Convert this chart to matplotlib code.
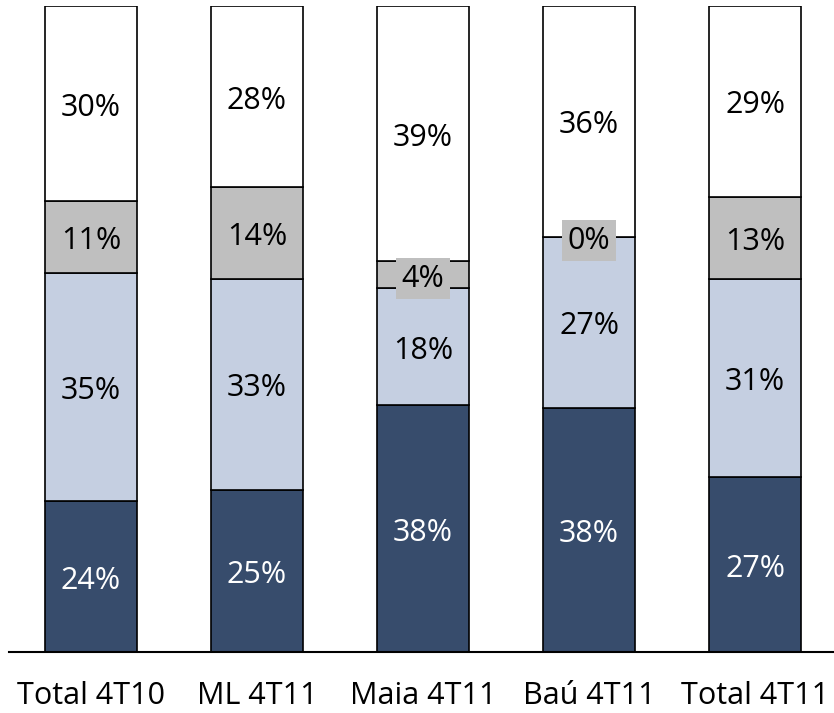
import matplotlib
matplotlib.use("Agg")
import matplotlib.pyplot as plt
import numpy as np

categories = ["Total 4T10", "ML 4T11", "Maia 4T11", "Baú 4T11", "Total 4T11"]
# segment values (bottom to top)
dark_vals = [23.4, 25.1, 38.2, 37.8, 27.1]
light_vals = [35.3, 32.7, 18.2, 26.5, 30.7]
gray_vals = [11.1, 14.2, 4.1, 0.0, 12.7]
white_vals = [30.2, 28.0, 39.5, 35.7, 29.5]
# data labels as shown
dark_labels = ["24%", "25%", "38%", "38%", "27%"]
light_labels = ["35%", "33%", "18%", "27%", "31%"]
gray_labels = ["11%", "14%", "4%", "0%", "13%"]
white_labels = ["30%", "28%", "39%", "36%", "29%"]

plt.rcParams['font.family'] = ['Open Sans', 'DejaVu Sans']

W, H = 834, 713
fig = plt.figure(figsize=(W / 100, H / 100), dpi=100)
ax = fig.add_axes([9 / W, 61 / H, 1 - 9 / W, (652 - 6) / H])

x = np.arange(len(categories))
width = 0.554
series = [
    (dark_vals, dark_labels, "#374C6C", "white", None),
    (light_vals, light_labels, "#C5CFE1", "black", None),
    (gray_vals, gray_labels, "#BFBFBF", "black", "#BFBFBF"),
    (white_vals, white_labels, "#FFFFFF", "black", None),
]
bottom = np.zeros(len(categories))
for vals, labels, color, tcolor, boxc in series:
    vals = np.array(vals)
    ax.bar(x, vals, width, bottom=bottom, color=color, edgecolor="black",
           linewidth=1.2, zorder=2)
    for xi, b, v, lab in zip(x, bottom, vals, labels):
        kw = {}
        if boxc is not None:
            kw["bbox"] = dict(facecolor=boxc, edgecolor="none", pad=4)
        ax.annotate(lab, (xi, b + v / 2), xytext=(0, -3), textcoords="offset points",
                    ha="center", va="center", color=tcolor,
                    fontsize=22, zorder=3, **kw)
    bottom = bottom + vals

ax.set_xlim((9 - 91) / 166, (834 - 91) / 166)
ax.set_ylim(0, 100)
for s in ["top", "right", "left"]:
    ax.spines[s].set_visible(False)
ax.spines["bottom"].set_linewidth(1.5)
ax.spines["bottom"].set_zorder(4)
ax.set_yticks([])
ax.set_xticks(x)
ax.set_xticklabels(categories, fontsize=22)
ax.tick_params(axis="x", length=0, pad=21)

fig.savefig("out.png", dpi=100)
